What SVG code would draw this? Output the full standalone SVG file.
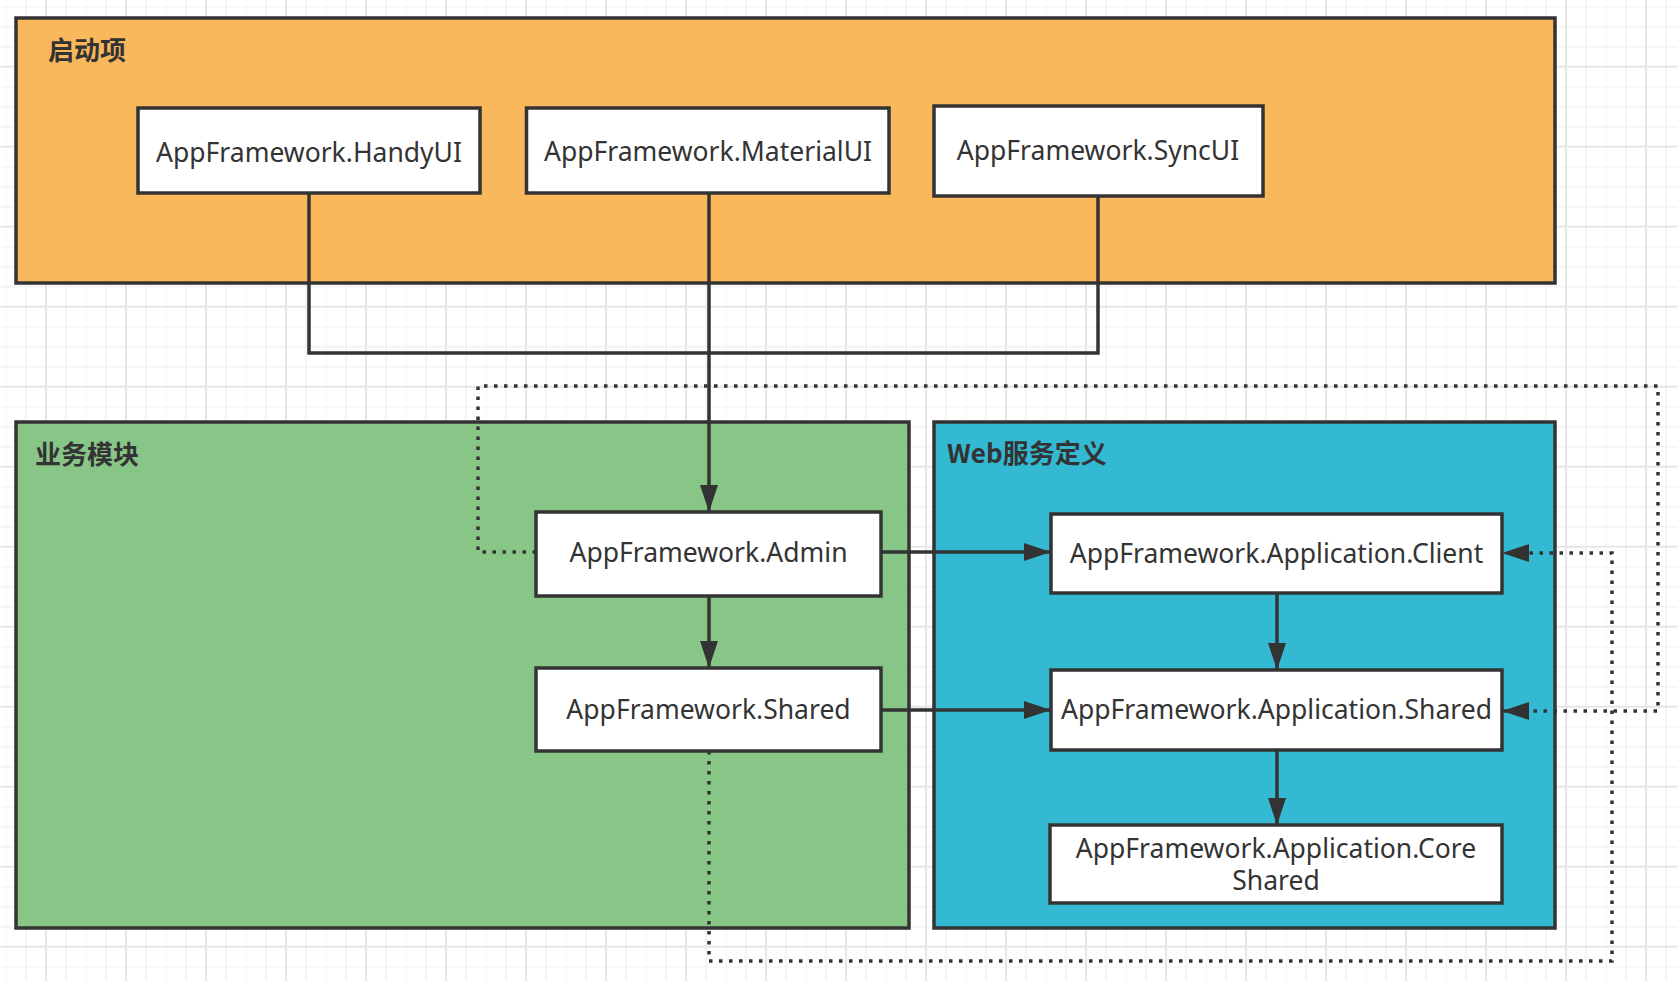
<svg xmlns="http://www.w3.org/2000/svg" width="1678" height="981" viewBox="0 0 1678 981">
<defs>
<pattern id="grid" x="6" y="6.7" width="80" height="80" patternUnits="userSpaceOnUse">
<path d="M0 0V80M20 0V80M60 0V80M0 0H80M0 20H80M0 40H80" stroke="#f2f2f2" stroke-width="1.5" fill="none"/>
<path d="M40 0V80M0 60H80" stroke="#e6e6e6" stroke-width="2" fill="none"/>
</pattern>
<marker id="arr" viewBox="0 0 27 18" refX="27" refY="9" markerWidth="27" markerHeight="18" markerUnits="userSpaceOnUse" orient="auto">
<path d="M0 0L27 9L0 18z" fill="#333"/>
</marker>
</defs>
<style>
.cont{stroke:#333;stroke-width:3.5}
.node rect{fill:#fff;stroke:#333;stroke-width:3.5}
.node text{font-family:"Noto Sans","Liberation Sans",sans-serif;font-size:26.5px;fill:#333;text-anchor:middle}
.title{font-family:"Noto Sans CJK SC","Noto Sans",sans-serif;font-size:26px;font-weight:bold;fill:#333}
.edge{fill:none;stroke:#333;stroke-width:3.5}
.dot{stroke-dasharray:3.5 6.5}
</style>
<rect width="1678" height="981" fill="#fff"/>
<rect width="1678" height="981" fill="url(#grid)"/>

<g id="startup">
<rect class="cont" x="16" y="18" width="1539" height="265" fill="#F9B85C"/>
<text class="title" x="48" y="60">启动项</text>
</g>
<g id="business">
<rect class="cont" x="16" y="422" width="893" height="506" fill="#88C688"/>
<text class="title" x="35" y="464">业务模块</text>
</g>
<g id="webservice">
<rect class="cont" x="934" y="422" width="621" height="506" fill="#33BAD2"/>
<text class="title" x="947" y="463">Web服务定义</text>
</g>

<g id="connectors">
<path class="edge" d="M309 193V353H709"/>
<path class="edge" d="M1098 196V353H709"/>
<path class="edge" d="M709 193V512" marker-end="url(#arr)"/>
<path class="edge" d="M709 596V668" marker-end="url(#arr)"/>
<path class="edge" d="M881 552H1051" marker-end="url(#arr)"/>
<path class="edge" d="M881 710H1051" marker-end="url(#arr)"/>
<path class="edge" d="M1277 593V670" marker-end="url(#arr)"/>
<path class="edge" d="M1277 750V825" marker-end="url(#arr)"/>
<path class="edge dot" d="M536 552H478V386H1658V711H1502" marker-end="url(#arr)"/>
<path class="edge dot" d="M709 751V961H1612V553H1502" marker-end="url(#arr)"/>
</g>

<g id="handyui" class="node">
<rect x="138" y="108" width="342" height="85"/>
<text x="309" y="162">AppFramework.HandyUI</text>
</g>
<g id="materialui" class="node">
<rect x="526.5" y="108" width="362.5" height="85"/>
<text x="708" y="161">AppFramework.MaterialUI</text>
</g>
<g id="syncui" class="node">
<rect x="934" y="106" width="329" height="90"/>
<text x="1098" y="160">AppFramework.SyncUI</text>
</g>
<g id="admin" class="node">
<rect x="536" y="512" width="345" height="84"/>
<text x="708.5" y="562">AppFramework.Admin</text>
</g>
<g id="shared" class="node">
<rect x="536" y="668" width="345" height="83"/>
<text x="708.5" y="719">AppFramework.Shared</text>
</g>
<g id="appclient" class="node">
<rect x="1051" y="514" width="451" height="79"/>
<text x="1276.5" y="563">AppFramework.Application.Client</text>
</g>
<g id="appshared" class="node">
<rect x="1051" y="670" width="451" height="80"/>
<text x="1276.5" y="719">AppFramework.Application.Shared</text>
</g>
<g id="appcoreshared" class="node">
<rect x="1050" y="825" width="452" height="78"/>
<text x="1276" y="858">AppFramework.Application.Core<tspan x="1276" y="890">Shared</tspan></text>
</g>
</svg>
